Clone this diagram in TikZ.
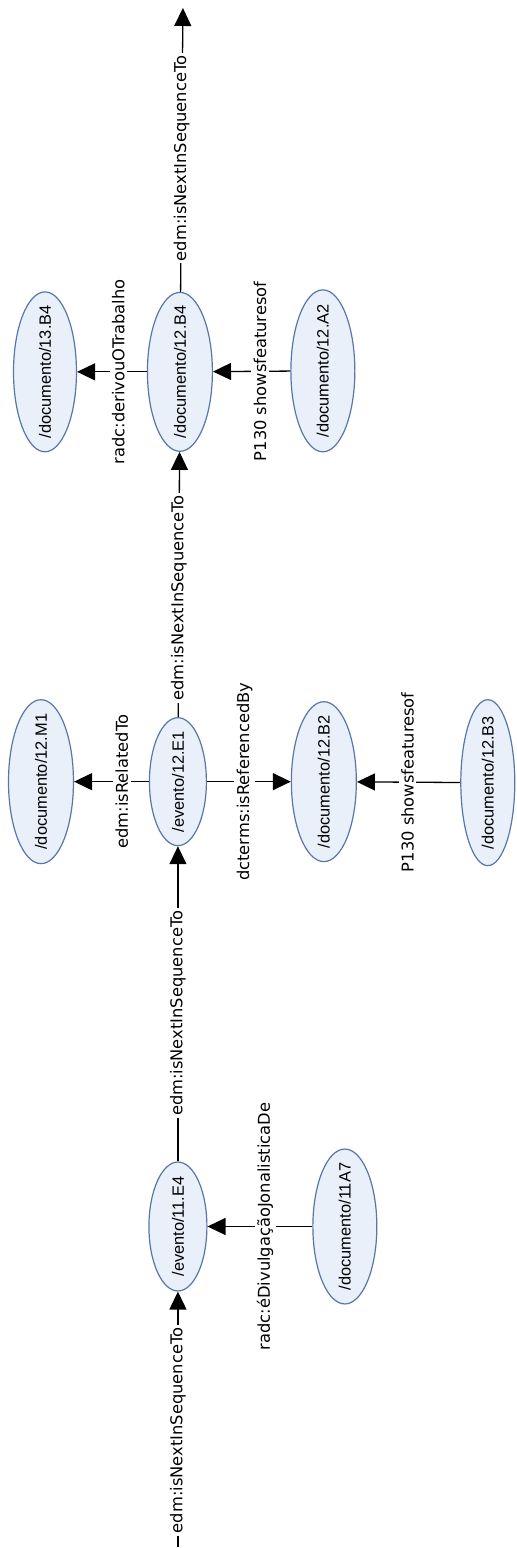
\documentclass[tikz,border=0pt]{standalone}
\usepackage{fontspec}
\setmainfont{Liberation Sans}
\newfontfamily\lblfont{DejaVu Sans}
\usepackage{xcolor}
\usepackage{tikz}
\usetikzlibrary{arrows.meta,shapes.geometric}

\definecolor{ndfill}{RGB}{233,240,250}
\definecolor{nddraw}{RGB}{88,118,168}
\newcommand{\ctr}[1]{\makebox[0pt]{#1}}

\begin{document}
\begin{tikzpicture}[
  x=0.5pt,y=-0.5pt,
  nd/.style={ellipse,draw=nddraw,line width=0.6pt,fill=ndfill,inner sep=0pt,rotate=90,
    font=\fontsize{8.2pt}{9.8pt}\selectfont},
  >={Triangle[length=9pt,width=8.5pt]},
  rel/.style={->,line width=0.65pt,black},
  lbl/.style={rotate=90,fill=white,inner sep=1.2pt,font=\lblfont\fontsize{8.15pt}{9.8pt}\selectfont}
]
\fill[white] (0,0) rectangle (517,1548);
% row of 12.B4
\node[nd,minimum width=80pt,minimum height=31.5pt] (doc13B4) at (45,372)  {\ctr{/documento/13.B4}};
\node[nd,minimum width=79.5pt,minimum height=32.5pt] (doc12B4) at (180,372) {\ctr{/documento/12.B4}};
\node[nd,minimum width=81pt,minimum height=32pt] (doc12A2) at (323,371)  {\ctr{/documento/12.A2}};
% row of 12.E1
\node[nd,minimum width=82pt,minimum height=32.5pt] (doc12M1) at (41,782)  {\ctr{/documento/12.M1}};
\node[nd,minimum width=64pt,minimum height=28.5pt] (ev12E1) at (178,782)  {\ctr{/evento/12.E1}};
\node[nd,minimum width=80pt,minimum height=32.5pt] (doc12B2) at (324,782) {\ctr{/documento/12.B2}};
\node[nd,minimum width=83pt,minimum height=27pt] (doc12B3) at (488,783)   {\ctr{/documento/12.B3}};
% row of 11.E4
\node[nd,minimum width=64.5pt,minimum height=29pt] (ev11E4) at (178,1227) {\ctr{/evento/11.E4}};
\node[nd,minimum width=77.5pt,minimum height=32pt] (doc11A7) at (345,1227) {\ctr{/documento/11A7}};
% open ends of the sequence
\coordinate (nxt) at (183,8);
\coordinate (prv) at (178,1548);
% sequence along the spine
\draw[rel] (prv) -- node[lbl,pos=.457] {edm:isNextInSequenceTo} (ev11E4);
\draw[rel] (ev11E4) -- node[lbl,pos=.47] {edm:isNextInSequenceTo} (ev12E1);
\draw[rel] (ev12E1) -- node[lbl,pos=.45] {edm:isNextInSequenceTo} (doc12B4);
\draw[rel] (doc12B4) -- node[lbl,pos=.47] {edm:isNextInSequenceTo} (nxt);
% side relations
\draw[rel] (doc12B4) -- node[lbl,pos=.41] {radc:derivouOTrabalho} (doc13B4);
\draw[rel] (doc12A2) -- node[lbl,pos=.39] {P130 showsfeaturesof} (doc12B4);
\draw[rel] (ev12E1) -- node[lbl,pos=.36] {edm:isRelatedTo} (doc12M1);
\draw[rel] (ev12E1) -- node[lbl,pos=.45] {dcterms:isReferencedBy} (doc12B2);
\draw[rel] (doc12B3) -- node[lbl,pos=.51] {P130 showsfeaturesof} (doc12B2);
\draw[rel] (doc11A7) -- node[lbl,pos=.45] {radc:éDivulgaçãoJonalisticaDe} (ev11E4);
\end{tikzpicture}
\end{document}
